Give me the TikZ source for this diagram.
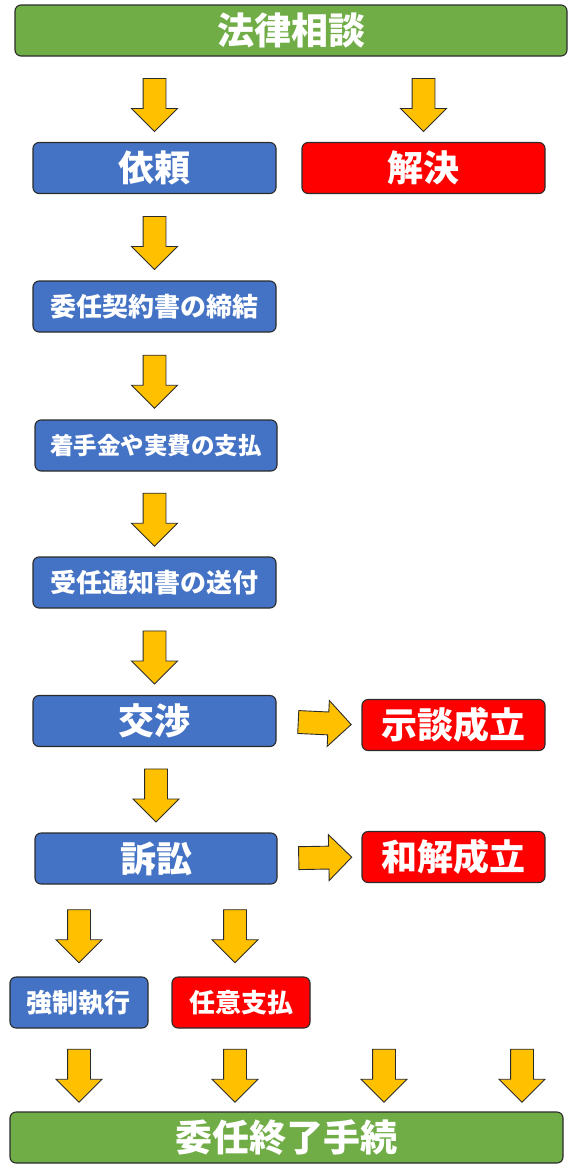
\documentclass[tikz,border=0pt]{standalone}
\usepackage{fontspec}
\setmainfont{Noto Sans CJK JP}
\usetikzlibrary{positioning,shapes.arrows}
\definecolor{boxgreen}{HTML}{70AD47}
\definecolor{boxblue}{HTML}{4472C4}
\definecolor{boxred}{HTML}{FF0000}
\definecolor{arryellow}{HTML}{FFC000}
\definecolor{edgegray}{HTML}{2B2B2B}
\begin{document}
\begin{tikzpicture}[x=1pt,y=-1pt,
box/.style={draw=edgegray,line width=1.1pt,rounded corners=6pt,
text=white,inner sep=0pt,minimum height=51pt,font=\bfseries},
gbox/.style={box,fill=boxgreen,font=\bfseries\fontsize{37}{40}\selectfont},
bbox/.style={box,fill=boxblue},
rbox/.style={box,fill=boxred},
big/.style={font=\bfseries\fontsize{36}{40}\selectfont},
small/.style={font=\bfseries\fontsize{26}{30}\selectfont},
smaller/.style={font=\bfseries\fontsize{23.5}{28}\selectfont},
barr/.style={single arrow,draw=edgegray,line width=0.9pt,fill=arryellow,
inner xsep=0pt,inner ysep=11pt,minimum height=53pt,minimum width=45pt,
single arrow head extend=11.5pt,sloped,allow upside down}]
\useasboundingbox (0,0) rectangle (579,1170);
% boxes
\node[gbox,minimum width=552pt] (soudan) at (291,30.5) {法律相談};
\node[bbox,big,minimum width=243pt] (irai) at (154.5,168) {依頼};
\node[rbox,big,minimum width=243pt] (kaiketsu) at (423.5,168) {解決};
\node[bbox,small,minimum width=243pt] (keiyaku) at (154.5,306.5) {委任契約書の締結};
\node[bbox,smaller,minimum width=242pt] (chakushu) at (156,445.5) {着手金や実費の支払};
\node[bbox,small,minimum width=243pt] (tsuchi) at (154.5,582.5) {受任通知書の送付};
\node[bbox,big,minimum width=243pt] (kosho) at (154.5,721) {交渉};
\node[rbox,big,minimum width=183pt] (jidan) at (453.5,725) {示談成立};
\node[bbox,big,minimum width=242pt] (sosho) at (156,858.5) {訴訟};
\node[rbox,big,minimum width=183pt] (wakai) at (453.5,857) {和解成立};
\node[bbox,small,minimum width=138pt] (kyosei) at (79,1002.5) {強制執行};
\node[rbox,small,minimum width=138pt] (nini) at (241,1002.5) {任意支払};
\node[gbox,minimum width=553pt] (shuryo) at (286.5,1137.5) {委任終了手続};
\coordinate (c2) at (235,0);
\coordinate (c3) at (384,0);
\coordinate (c4) at (522,0);
% arrows
\path (soudan.south -| irai) -- node[barr] (a1) {} (irai.north);
\path (soudan.south -| kaiketsu) -- node[barr] (a2) {} (kaiketsu.north);
\path (irai) -- node[barr] (a3) {} (keiyaku);
\path (keiyaku) -- node[barr] (a4) {} (chakushu.north -| keiyaku);
\path (chakushu.south -| tsuchi) -- node[barr] (a5) {} (tsuchi.north);
\path (tsuchi) -- node[barr] (a6) {} (kosho);
\path (kosho.south -| sosho) -- node[barr] (a7) {} (sosho.north);
\path (kosho.east) -- node[barr] (a8) {} (jidan.west);
\path (sosho.east) -- node[barr] (a9) {} (wakai.west);
\path (sosho.south -| kyosei) -- node[barr] (a10) {} (kyosei.north);
\path (sosho.south -| c2) -- node[barr] (a11) {} (nini.north -| c2);
\path (kyosei.south) -- node[barr] (a12) {} (shuryo.north -| kyosei);
\path (nini.south -| c2) -- node[barr] (a13) {} (shuryo.north -| c2);
\path (nini.south -| c3) -- node[barr] (a14) {} (shuryo.north -| c3);
\path (nini.south -| c4) -- node[barr] (a15) {} (shuryo.north -| c4);
\end{tikzpicture}
\end{document}
